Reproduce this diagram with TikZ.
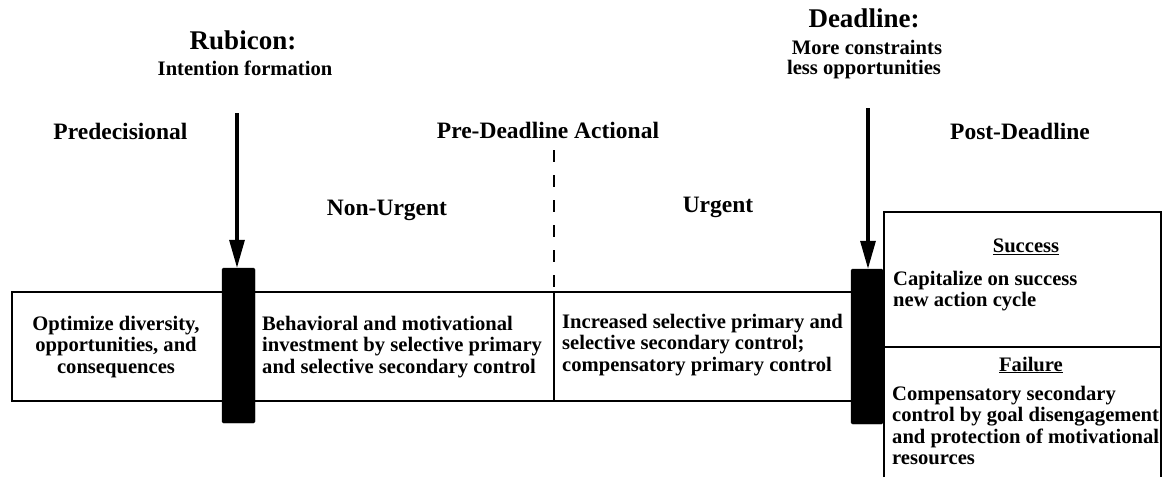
\documentclass[tikz,border=0pt]{standalone}
\usepackage{fontspec}
\setmainfont{Liberation Serif}
\usetikzlibrary{arrows.meta}
\tikzset{
  txt/.style={inner sep=0pt, font=\fontsize{20.6}{21.6}\selectfont\bfseries},
  phase/.style={inner sep=0pt, font=\fontsize{23.5}{26}\selectfont\bfseries},
  title/.style={inner sep=0pt, font=\fontsize{27}{30}\selectfont\bfseries},
  boxline/.style={line width=1.6pt},
  bar/.style={fill=black, draw=black, rounded corners=1.5pt, inner sep=0pt},
  bigarrow/.style={line width=3.2pt, -{Triangle[length=28pt,width=15pt]}},
}
\begin{document}
\begin{tikzpicture}[x=1pt,y=-1pt]
\useasboundingbox (0,0) rectangle (1163,477);
\fill[white] (0,0) rectangle (1163,477);

% main horizontal box
\node[draw, boxline, minimum width=855pt, minimum height=109pt, inner sep=0pt] (mainbox) at (439.5,346.5) {};

% right box (open at bottom)
\coordinate (rbl) at (884,477);
\coordinate (rtl) at (884,212);
\coordinate (rtr) at (1161,212);
\coordinate (rbr) at (1161,477);
\coordinate (rdl) at (884,347);
\coordinate (rdr) at (1161,347);
\draw[boxline] (rbl) -- (rtl) -- (rtr) -- (rbr);
\draw[line width=2pt] (rdl) -- (rdr);

% divider non-urgent / urgent
\coordinate (dtop) at (554,150);
\coordinate (dmid) at (554,292);
\coordinate (dbot) at (554,401);
\draw[line width=1.6pt, dash pattern=on 12pt off 13pt] (dtop) -- (dmid);
\draw[line width=2pt] (dmid) -- (dbot);

% bars
\node[bar, minimum width=33pt, minimum height=155pt] (rubbar) at (238.5,345.5) {};
\node[bar, minimum width=32pt, minimum height=155pt] (deadbar) at (867,346.5) {};

% arrows
\coordinate (rubtop) at (237,113);
\coordinate (deadtop) at (868,108);
\draw[bigarrow] (rubtop) -- (rubtop |- rubbar.north);
\draw[bigarrow] (deadtop) -- (deadtop |- deadbar.north);

% titles
\node[title] (rubicon) at (243,40) {Rubicon:};
\node[txt] (intention) at (245,68) {Intention formation};
\node[title] (deadline) at (864,18) {Deadline:};
\node[txt] (more) at (867,47) {More constraints};
\node[txt] (less) at (864,70) {less opportunities};

% phase labels
\node[phase] (predec) at (120.5,131) {Predecisional};
\node[phase] (preact) at (548,130) {Pre-Deadline Actional};
\node[phase] (postdl) at (1020,131) {Post-Deadline};
\node[phase] (nonurg) at (387,210) {Non-Urgent};
\node[phase] (urg) at (718,207) {Urgent};

% box texts
\node[txt, align=center] (optim) at (116,347) {Optimize diversity,\\opportunities, and\\consequences};
\node[txt, align=left, anchor=west] (behav) at (262,347) {Behavioral and motivational\\investment by selective primary\\and selective secondary control};
\node[txt, align=left, anchor=west] (incr) at (562,345) {Increased selective primary and\\selective secondary control;\\compensatory primary control};

% post-deadline texts
\node[txt] (succ) at (1026,247) {\underline{Success}};
\node[txt, align=left, anchor=west] (capit) at (893,291) {Capitalize on success\\new action cycle};
\node[txt] (fail) at (1031,365) {\underline{Failure}};
\node[txt, align=left, anchor=west] (comp) at (892,425.5) {Compensatory secondary\\control by goal disengagement\\and protection of motivational\\resources};
\end{tikzpicture}
\end{document}
